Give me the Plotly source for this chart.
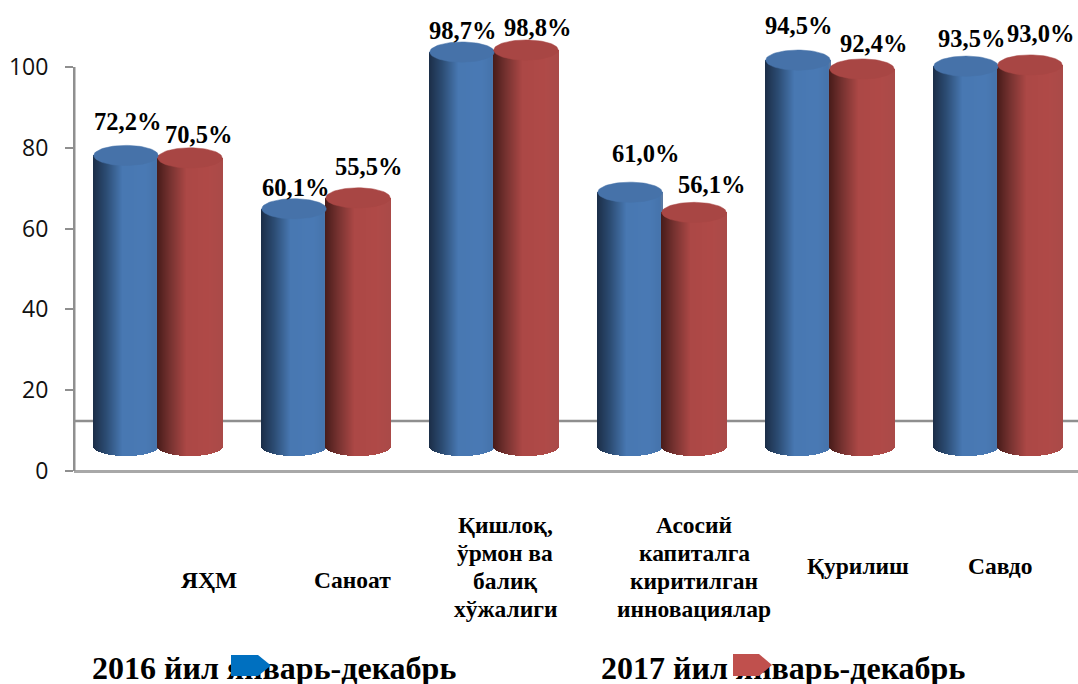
import numpy as np
import plotly.graph_objects as go

categories = ["ЯҲМ", "Саноат", "Қишлоқ,<br>ўрмон ва<br>балиқ<br>хўжалиги",
              "Асосий<br>капиталга<br>киритилган<br>инновациялар", "Қурилиш", "Савдо"]
series_names = ["2016 йил январь-декабрь", "2017 йил январь-декабрь"]
values_2016 = [78.1, 64.9, 103.7, 69.0, 101.7, 100.2]
values_2017 = [77.5, 67.6, 104.2, 64.0, 99.5, 100.5]
labels_2016 = ["72,2%", "60,1%", "98,7%", "61,0%", "94,5%", "93,5%"]
labels_2017 = ["70,5%", "55,5%", "98,8%", "56,1%", "92,4%", "93,0%"]
y_ticks = [0, 20, 40, 60, 80, 100]

# layout / style
W, H = 1078, 684
L, B_PX = 74, 471
PX_PER_UNIT = 4.04
X_UNIT = 168.0
BASE = 6.2
CAP_B = 2.5
BAR_OFFSET = 32 / X_UNIT
BAR_HALF = 32.3 / X_UNIT
N_STRIP = 65
LINE_STEP = 28

label_px_2016 = [(127, 122), (295, 187), (462, 30), (645, 153), (798, 26), (971, 38)]
label_px_2017 = [(198, 134), (368, 167), (537, 27), (711, 184), (873, 43), (1040, 33)]
cat_px = [(209, 580), (352, 580), (505, 567), (694, 567), (858, 566), (1000, 566)]
legend_px = [(92, 671), (601, 671)]
GREY = "#8f8f8f"


def lerp(c1, c2, t):
    return tuple(a + (b - a) * t for a, b in zip(c1, c2))


def shade(stops, t):
    for (t0, c0), (t1, c1) in zip(stops, stops[1:]):
        if t <= t1:
            r = lerp(c0, c1, (t - t0) / (t1 - t0))
            return "rgb(%d,%d,%d)" % r
    return "rgb(%d,%d,%d)" % stops[-1][1]


blue_stops = [(0, (28, 46, 72)), (0.2, (44, 76, 115)), (0.45, (72, 120, 178)), (0.8, (74, 122, 181)), (0.97, (70, 116, 172)), (1, (96, 124, 160))]
red_stops = [(0, (72, 28, 26)), (0.2, (118, 50, 48)), (0.45, (172, 72, 70)), (0.8, (176, 74, 72)), (1, (170, 74, 72))]


def cylinder_traces(values, sign, stops, cap_color, name):
    xs, bases, heights, colors = [], [], [], []
    for i, v in enumerate(values):
        c = i + sign * BAR_OFFSET
        for k in range(N_STRIP):
            t = (k + 0.5) / N_STRIP
            u = 2 * t - 1
            xs.append(c + u * BAR_HALF)
            b = BASE - CAP_B * np.sqrt(1 - u * u)
            bases.append(b)
            heights.append(v - b)
            colors.append(shade(stops, t))
    bar = go.Bar(x=xs, y=heights, base=bases, width=[2 * BAR_HALF / N_STRIP * 1.5] * len(xs),
                 marker=dict(color=colors, line=dict(width=0)), name=name, showlegend=False,
                 hoverinfo="skip")
    cx, cy = [], []
    theta = np.linspace(0, 2 * np.pi, 73)
    for i, v in enumerate(values):
        c = i + sign * BAR_OFFSET
        cx += list(c + BAR_HALF * np.cos(theta)) + [None]
        cy += list(v + CAP_B * np.sin(theta)) + [None]
    cap = go.Scatter(x=cx, y=cy, mode="lines", fill="toself", fillcolor=cap_color,
                     line=dict(width=0.5, color=cap_color), showlegend=False, hoverinfo="skip")
    return [bar, cap]


fig = go.Figure()
for tr in cylinder_traces(values_2016, -1, blue_stops, "#4672A9", series_names[0]):
    fig.add_trace(tr)
for tr in cylinder_traces(values_2017, 1, red_stops, "#A84644", series_names[1]):
    fig.add_trace(tr)
# legend texts live in the plot layer so that the arrows can sit over them
fig.add_trace(go.Scatter(
    x=[-0.5 + (p[0] - L) / X_UNIT for p in legend_px],
    y=[(B_PX - p[1]) / PX_PER_UNIT for p in legend_px],
    mode="text", text=["<b>%s</b>" % s for s in series_names], textposition="middle right",
    cliponaxis=False, textfont=dict(family="Liberation Serif", size=32, color="#000000"),
    showlegend=False, hoverinfo="skip"))


def px_x(p):
    return (p - L) / (W - L)


def px_y(p):
    return (H - p) / H


ann = []
for txts, pos in ((labels_2016, label_px_2016), (labels_2017, label_px_2017)):
    for t, (px, py) in zip(txts, pos):
        ann.append(dict(text="<b>%s</b>" % t, x=px_x(px), y=px_y(py), xref="paper", yref="paper",
                        showarrow=False, xanchor="center", yanchor="middle",
                        font=dict(family="Liberation Serif", size=24.5, color="#000000")))
for t, (px, py) in zip(categories, cat_px):
    lines = t.split("<br>")
    for j, line in enumerate(lines):
        ly = py + (j - (len(lines) - 1) / 2) * LINE_STEP
        ann.append(dict(text="<b>%s</b>" % line, x=px_x(px), y=px_y(ly),
                        xref="paper", yref="paper", showarrow=False, align="center",
                        xanchor="center", yanchor="middle",
                        font=dict(family="Liberation Serif", size=23.5, color="#000000")))


def arrow_path(x0, x1, y0, y1, tip):
    pts = [(x0, y0), (x1 - tip, y0), (x1, (y0 + y1) / 2), (x1 - tip, y1), (x0, y1)]
    return "M " + " L ".join("%f,%f" % (px_x(a), px_y(b)) for a, b in pts) + " Z"


shapes = [
    dict(type="line", xref="paper", yref="y", x0=0, x1=1, y0=12.4, y1=12.4, layer="below",
         line=dict(color=GREY, width=2.5)),
    # value-axis line, 0..100 only
    dict(type="rect", xref="paper", yref="y", x0=px_x(73), x1=px_x(75.5), y0=0, y1=y_ticks[-1],
         fillcolor=GREY, line=dict(width=0), layer="above"),
    dict(type="path", xref="paper", yref="paper", path=arrow_path(231, 271, 655, 676, 13),
         fillcolor="#0070C0", line=dict(width=0)),
    dict(type="path", xref="paper", yref="paper", path=arrow_path(733, 772, 654, 676, 13),
         fillcolor="#C0504D", line=dict(width=0)),
]

fig.update_layout(
    width=W, height=H, autosize=False, paper_bgcolor="white", plot_bgcolor="white",
    margin=dict(l=L, r=0, t=0, b=0, pad=0), barmode="overlay", bargap=0,
    showlegend=False, annotations=ann, shapes=shapes,
    xaxis=dict(range=[-0.5, -0.5 + (W - L) / X_UNIT], showgrid=False, zeroline=False,
               showticklabels=False, ticks="", showline=False),
    yaxis=dict(range=[(B_PX - H) / PX_PER_UNIT, B_PX / PX_PER_UNIT], tickvals=y_ticks,
               showgrid=False, zeroline=True, zerolinecolor="#a8a8a8", zerolinewidth=2.5,
               showline=False, ticks="outside", ticklen=8, tickwidth=2, tickcolor=GREY,
               ticklabelstandoff=12, automargin=False,
               tickfont=dict(family="Open Sans", size=23, color="#111111")),
)
fig.write_html("out.html", config={"displayModeBar": False},
               post_script="document.body.style.margin='0';document.body.style.overflow='hidden';")
